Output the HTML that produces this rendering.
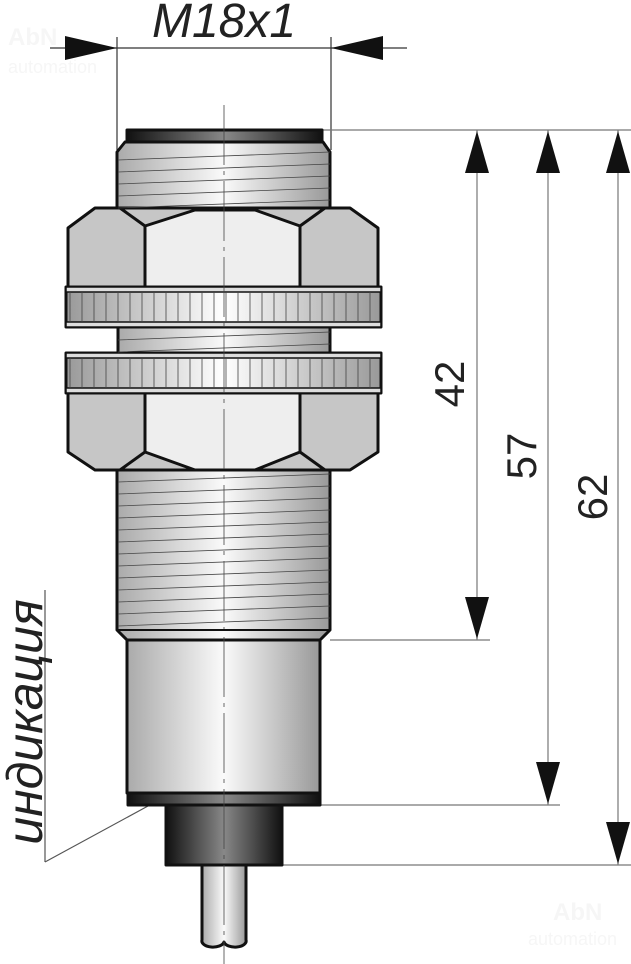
<!DOCTYPE html>
<html><head><meta charset="utf-8"><style>html,body{margin:0;padding:0;background:#fff}svg{display:block}</style></head>
<body>
<svg width="631" height="964" viewBox="0 0 631 964" xmlns="http://www.w3.org/2000/svg" font-family="Liberation Sans, DejaVu Sans, sans-serif">
<defs>
<linearGradient id="m" x1="0" x2="1"><stop offset="0" stop-color="#aaa"/><stop offset="0.5" stop-color="#fafafa"/><stop offset="1" stop-color="#999"/></linearGradient>
<linearGradient id="d" x1="0" x2="1"><stop offset="0" stop-color="#111"/><stop offset="0.5" stop-color="#888"/><stop offset="1" stop-color="#111"/></linearGradient>
<linearGradient id="k" x1="0" x2="1"><stop offset="0" stop-color="#999"/><stop offset="0.5" stop-color="#fff"/><stop offset="1" stop-color="#999"/></linearGradient>
</defs>
<text x="8" y="45" font-size="24" fill="#f6f6f6" font-weight="bold">AbN</text>
<text x="8" y="73" font-size="18" fill="#f6f6f6">automation</text>
<text x="553" y="920" font-size="24" fill="#f6f6f6" font-weight="bold">AbN</text>
<text x="528" y="945" font-size="18" fill="#f6f6f6">automation</text>

<g stroke="#333" stroke-width="1.2" fill="none">
<line x1="50" y1="48" x2="407" y2="48"/>
<line x1="117" y1="37" x2="117" y2="150"/>
<line x1="331" y1="37" x2="331" y2="150"/>
<line x1="322" y1="130" x2="631" y2="130" stroke="#777"/>
<line x1="330" y1="640" x2="490" y2="640" stroke="#777"/>
<line x1="320" y1="805" x2="560" y2="805" stroke="#777"/>
<line x1="282" y1="865" x2="631" y2="865" stroke="#777"/>
<line x1="477" y1="130" x2="477" y2="640" stroke="#777"/>
<line x1="548" y1="130" x2="548" y2="805" stroke="#777"/>
<line x1="618" y1="130" x2="618" y2="865" stroke="#777"/>
<line x1="45" y1="590" x2="45" y2="862" stroke="#555"/>
<line x1="45" y1="862" x2="148" y2="806" stroke="#555"/>
</g>
<g fill="#111">
<polygon points="65,36 117,48 65,60"/>
<polygon points="383,36 331,48 383,60"/>
<polygon points="477,131 465,173 489,173"/><polygon points="477,639 465,597 489,597"/>
<polygon points="548,131 536,173 560,173"/><polygon points="548,804 536,762 560,762"/>
<polygon points="618,131 606,173 630,173"/><polygon points="618,864 606,822 630,822"/>
</g>
<text x="224" y="37" font-size="48" font-style="italic" text-anchor="middle" fill="#222">M18x1</text>
<text transform="translate(464,384) rotate(-90)" font-size="42" text-anchor="middle" fill="#222">42</text>
<text transform="translate(536,456) rotate(-90)" font-size="42" text-anchor="middle" fill="#222">57</text>
<text transform="translate(607,497) rotate(-90)" font-size="42" text-anchor="middle" fill="#222">62</text>
<text transform="translate(42,722) rotate(-90)" font-size="50" font-style="italic" text-anchor="middle" fill="#222">индикация</text>

<g stroke="#111" stroke-width="3" stroke-linejoin="round">
<rect x="127" y="130" width="195" height="12" fill="url(#d)"/>
<polygon points="125,142 323,142 330,152 330,210 117,210 117,152" fill="url(#m)"/>
<rect x="118" y="320" width="212" height="40" fill="url(#m)"/>
<polygon points="117,465 330,465 330,630 320,640 127,640 117,630" fill="url(#m)"/>
<polygon points="68,228 95,208 350,208 378,228 378,287 68,287" fill="#c6c6c6"/>
<polygon points="145,226 195,210 255,210 300,226 300,287 145,287" fill="#eee"/>
<line x1="145" y1="226" x2="120" y2="208"/><line x1="300" y1="226" x2="325" y2="208"/>
<rect x="66" y="287" width="315" height="40" fill="url(#k)"/>
<rect x="66" y="353" width="315" height="40" fill="url(#k)"/>
<polygon points="68,393 378,393 378,452 350,470 95,470 68,452" fill="#c6c6c6"/>
<polygon points="145,393 300,393 300,452 255,470 195,470 145,452" fill="#eee"/>
<line x1="145" y1="452" x2="120" y2="470"/><line x1="300" y1="452" x2="325" y2="470"/>
<rect x="127" y="640" width="193" height="153" fill="url(#m)"/>
<rect x="128" y="793" width="192" height="12" fill="url(#d)"/>
<rect x="166" y="805" width="116" height="60" fill="url(#d)"/>
<path d="M202,865 L202,940 A11,6 0 0 0 224,942 A11,6 0 0 0 246,940 L246,865 Z" fill="url(#m)"/>
</g>
<g stroke="#111" stroke-width="1.5">
<rect x="66" y="287" width="315" height="5" fill="#ddd"/><rect x="66" y="322" width="315" height="5" fill="#ddd"/>
<rect x="66" y="353" width="315" height="5" fill="#ddd"/><rect x="66" y="388" width="315" height="5" fill="#ddd"/>
</g>
<g stroke="#444" stroke-width="0.8">
<path d="M70,292v30M82,292v30M94,292v30M106,292v30M118,292v30M130,292v30M142,292v30M154,292v30M166,292v30M178,292v30M190,292v30M202,292v30M214,292v30M226,292v30M238,292v30M250,292v30M262,292v30M274,292v30M286,292v30M298,292v30M310,292v30M322,292v30M334,292v30M346,292v30M358,292v30M370,292v30"/>
<path d="M70,358v30M82,358v30M94,358v30M106,358v30M118,358v30M130,358v30M142,358v30M154,358v30M166,358v30M178,358v30M190,358v30M202,358v30M214,358v30M226,358v30M238,358v30M250,358v30M262,358v30M274,358v30M286,358v30M298,358v30M310,358v30M322,358v30M334,358v30M346,358v30M358,358v30M370,358v30"/>
<path d="M118,160L330,152M118,172L330,164M118,184L330,176M118,196L330,188M118,208L330,200M118,340L330,332M118,352L330,344"/>
<path d="M118,482L330,474M118,494L330,486M118,506L330,498M118,518L330,510M118,530L330,522M118,542L330,534M118,554L330,546M118,566L330,558M118,578L330,570M118,590L330,582M118,602L330,594M118,614L330,606M118,626L330,618"/>
<path d="M224,105v900" stroke-dasharray="60,6,4,6"/>
</g>
<line x1="117" y1="630" x2="330" y2="630" stroke="#111" stroke-width="2"/>
</svg>
</body></html>
